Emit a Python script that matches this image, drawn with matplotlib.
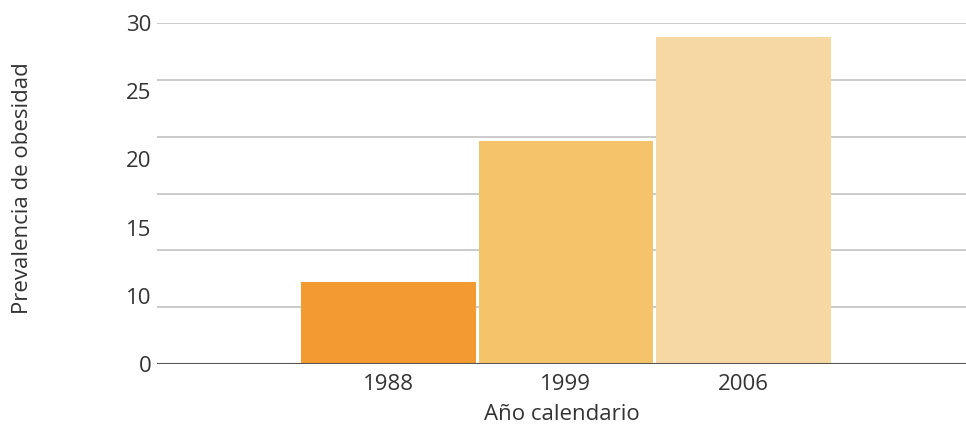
import matplotlib
matplotlib.use("Agg")
from matplotlib import pyplot as plt

# data (values on the gridline scale, 5 units per gridline)
years = ['1988', '1999', '2006']
prevalence = [7.2, 19.6, 28.8]
bar_colors = ['#F39A31', '#F5C36A', '#F6D8A3']

# the original puts its tick labels evenly spaced, not on the gridlines
ytick_pos = [0, 6, 12, 18, 24, 30]
ytick_labels = ['0', '10', '15', '20', '25', '30']
grid_pos = [5, 10, 15, 20, 25, 30]

plt.rcParams['font.family'] = ['Open Sans', 'DejaVu Sans']
text_color = '#333333'

fig = plt.figure(figsize=(9.66, 4.29), dpi=100)
ax = fig.add_axes([157 / 966, 1 - 364 / 429, 1 - 157 / 966, (364 - 23) / 429])

x = range(len(years))
ax.bar(x, prevalence, width=0.985, color=bar_colors, zorder=2)

for g in grid_pos:
    ax.axhline(g, color='#BDBDBD', linewidth=1.1, zorder=1)
ax.axhline(0, color='#555555', linewidth=1.5, zorder=3)

ax.set_xlim(-1.304, 3.254)
ax.set_ylim(0, 30)

ax.set_xticks(list(x))
ax.set_xticklabels(years)
ax.set_yticks(ytick_pos)
ax.set_yticklabels(ytick_labels)
ax.tick_params(axis='both', length=0, labelsize=16, labelcolor=text_color)
ax.tick_params(axis='y', pad=4)
ax.tick_params(axis='x', pad=7)

for side in ['top', 'right', 'left', 'bottom']:
    ax.spines[side].set_visible(False)

ax.set_xlabel('Año calendario', fontsize=16, color=text_color, labelpad=7)
fig.text(23 / 966, 1 - 188 / 429, 'Prevalencia de obesidad', rotation=90,
         ha='center', va='center', fontsize=16, color=text_color)

plt.savefig('out.png', dpi=100)
